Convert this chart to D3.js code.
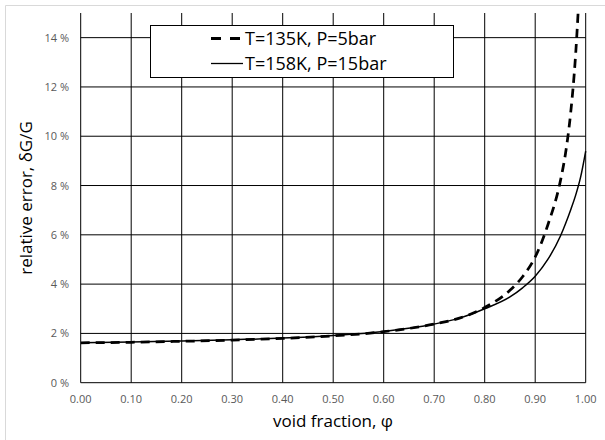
<!DOCTYPE html>
<html>
<head>
<meta charset="utf-8">
<script src="https://cdn.jsdelivr.net/npm/d3@7"></script>
<style>
  body { margin: 0; background: #fff; }
  text { font-family: "Open Sans", sans-serif; }
</style>
</head>
<body>
<script>
var width = 605;
var height = 440;

// data (void fraction vs relative error in %)
var phiSolid = [0, 0.1, 0.2, 0.3, 0.4, 0.5, 0.6, 0.7, 0.75, 0.8, 0.85, 0.875, 0.9, 0.925, 0.95, 0.96, 0.97, 0.98, 0.99, 1.0];
var errSolid = [1.62, 1.65, 1.69, 1.74, 1.81, 1.92, 2.08, 2.38, 2.62, 3.0, 3.48, 3.85, 4.32, 5.0, 5.95, 6.45, 7.0, 7.6, 8.35, 9.4];
var phiDashed = [0, 0.1, 0.2, 0.3, 0.4, 0.5, 0.6, 0.7, 0.75, 0.8, 0.85, 0.875, 0.9, 0.925, 0.95, 0.96, 0.97, 0.98, 0.99];
var errDashed = [1.62, 1.64, 1.68, 1.73, 1.80, 1.90, 2.07, 2.38, 2.62, 3.05, 3.75, 4.3, 5.1, 6.4, 8.2, 9.3, 10.9, 13.3, 17.0];

var xTicks = [0, 0.1, 0.2, 0.3, 0.4, 0.5, 0.6, 0.7, 0.8, 0.9, 1.0];
var yTicks = [0, 2, 4, 6, 8, 10, 12, 14];
var legendLabels = ["T=135K, P=5bar", "T=158K, P=15bar"];

var svg = d3.select("body").append("svg")
  .attr("width", width)
  .attr("height", height);

// outer chart border (only top and left show)
svg.append("path")
  .attr("d", "M5.5,440 V5.5 H605")
  .attr("fill", "none")
  .attr("stroke", "#d9d9d9");

var x = d3.scaleLinear().domain([0, 1]).range([80.7, 585.7]);
var y = d3.scaleLinear().domain([0, 15]).range([382.7, 13]);

var grid = svg.append("g");

grid.selectAll(".vline")
  .data(xTicks)
  .enter()
  .append("line")
  .attr("x1", function (d) { return x(d); })
  .attr("x2", function (d) { return x(d); })
  .attr("y1", y(15))
  .attr("y2", y(0))
  .attr("stroke", "#000")
  .attr("stroke-width", 1);

grid.selectAll(".hline")
  .data(yTicks)
  .enter()
  .append("line")
  .attr("x1", x(0))
  .attr("x2", x(1))
  .attr("y1", function (d) { return y(d); })
  .attr("y2", function (d) { return y(d); })
  .attr("stroke", "#000")
  .attr("stroke-width", 1);

// tick labels
svg.selectAll(".xlab")
  .data(xTicks)
  .enter()
  .append("text")
  .attr("x", function (d) { return x(d); })
  .attr("y", 403)
  .attr("text-anchor", "middle")
  .attr("font-size", 11)
  .attr("fill", "#595959")
  .text(function (d) { return d3.format(".2f")(d); });

svg.selectAll(".ylab")
  .data(yTicks)
  .enter()
  .append("text")
  .attr("x", 69)
  .attr("y", function (d) { return y(d) + 4; })
  .attr("text-anchor", "end")
  .attr("font-size", 11)
  .attr("fill", "#595959")
  .text(function (d) { return d + " %"; });

// axis titles
svg.append("text")
  .attr("x", 333)
  .attr("y", 427)
  .attr("text-anchor", "middle")
  .attr("font-size", 17)
  .attr("fill", "#000")
  .text("void fraction, \u03c6");

svg.append("text")
  .attr("transform", "translate(32,198) rotate(-90)")
  .attr("text-anchor", "middle")
  .attr("font-size", 17)
  .attr("fill", "#000")
  .text("relative error, \u03b4G/G");

// curves
svg.append("clipPath")
  .attr("id", "plotClip")
  .append("rect")
  .attr("x", x(0))
  .attr("y", y(15))
  .attr("width", x(1) - x(0) + 2)
  .attr("height", y(0) - y(15));

var line = d3.line()
  .x(function (d) { return x(d[0]); })
  .y(function (d) { return y(d[1]); })
  .curve(d3.curveMonotoneX);

var solidData = d3.zip(phiSolid, errSolid);
var dashedData = d3.zip(phiDashed, errDashed);

var curves = svg.append("g").attr("clip-path", "url(#plotClip)");

curves.append("path")
  .attr("d", line(solidData))
  .attr("fill", "none")
  .attr("stroke", "#000")
  .attr("stroke-width", 1.5);

curves.append("path")
  .attr("d", line(dashedData))
  .attr("fill", "none")
  .attr("stroke", "#000")
  .attr("stroke-width", 2.75)
  .attr("stroke-dasharray", "9,6");

// legend
var legend = svg.append("g");

legend.append("rect")
  .attr("x", 150.5)
  .attr("y", 25.5)
  .attr("width", 303)
  .attr("height", 52)
  .attr("fill", "#fff")
  .attr("stroke", "#000")
  .attr("stroke-width", 1);

legend.append("line")
  .attr("x1", 211).attr("x2", 241)
  .attr("y1", 38.5).attr("y2", 38.5)
  .attr("stroke", "#000")
  .attr("stroke-width", 3)
  .attr("stroke-dasharray", "10,9");

legend.append("line")
  .attr("x1", 211).attr("x2", 243)
  .attr("y1", 63.5).attr("y2", 63.5)
  .attr("stroke", "#000")
  .attr("stroke-width", 1.3);

legend.selectAll(".ltext")
  .data(legendLabels)
  .enter()
  .append("text")
  .attr("x", 245)
  .attr("y", function (d, i) { return 44.5 + i * 25; })
  .attr("font-size", 18)
  .attr("fill", "#000")
  .text(function (d) { return d; });
</script>
</body>
</html>
